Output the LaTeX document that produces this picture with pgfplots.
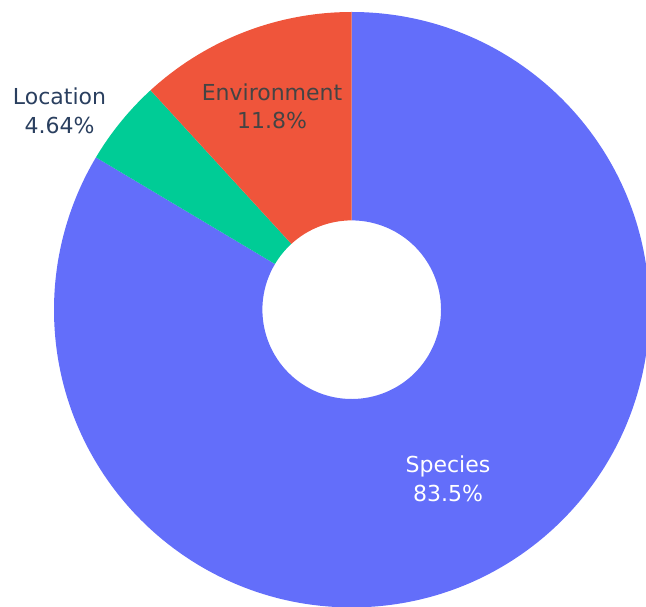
\documentclass[border=0pt]{standalone}
\usepackage{pgfplots}
\pgfplotsset{compat=1.18}
\usepackage{pgfplotstable}
\usepackage{fontspec}
\setmainfont{DejaVu Sans}

\definecolor{cSpecies}{HTML}{636EFA}
\definecolor{cLocation}{HTML}{00CC96}
\definecolor{cEnvironment}{HTML}{EF553B}
\definecolor{txtout}{HTML}{2A3F5F}
\definecolor{txtdark}{HTML}{444444}

% share of each part (percent)
\pgfplotstableread{
name share
Species 83.5
Location 4.64
Environment 11.8
}\shares

\pgfplotstablegetelem{0}{share}\of\shares \let\sA\pgfplotsretval
\pgfplotstablegetelem{1}{share}\of\shares \let\sB\pgfplotsretval
\pgfplotstablegetelem{2}{share}\of\shares \let\sC\pgfplotsretval
\pgfmathsetmacro\total{\sA+\sB+\sC}
% clockwise from 12 o'clock
\pgfmathsetmacro\aA{90}
\pgfmathsetmacro\aB{\aA-360*(\sA/\total)}
\pgfmathsetmacro\aC{\aB-360*(\sB/\total)}
\pgfmathsetmacro\aD{\aC-360*(\sC/\total)}

\def\cx{351.7}
\def\cy{296.3}
\def\Rout{297.7pt}
\def\Rin{89.3pt}

\newcommand\donutslice[3]{%
  \fill[#3] ([shift={(#1:\Rout)}]axis cs:\cx,\cy)
    arc[start angle=#1,end angle=#2,radius=\Rout]
    -- ([shift={(#2:\Rin)}]axis cs:\cx,\cy)
    arc[start angle=#2,end angle=#1,radius=\Rin] -- cycle;}

\tikzset{lbl/.style={anchor=base, inner sep=0pt, font=\fontsize{22}{26}\selectfont}}

\begin{document}
\begin{tikzpicture}
\useasboundingbox (0,0) rectangle (646pt,606pt);
\clip (0,0) rectangle (646pt,606pt);
\begin{axis}[
  at={(0,0)}, anchor=south west,
  scale only axis, width=646pt, height=606pt,
  xmin=0, xmax=646, ymin=0, ymax=606,
  hide axis, clip=false,
]
\donutslice{\aA}{\aB}{cSpecies}
\donutslice{\aB}{\aC}{cLocation}
\donutslice{\aC}{\aD}{cEnvironment}

\node[lbl, text=white] at (axis cs:448,133.7) {Species};
\node[lbl, text=white] at (axis cs:448,104.3) {83.5\%};
\node[lbl, text=txtdark] at (axis cs:272,505.3) {Environment};
\node[lbl, text=txtdark] at (axis cs:272,477.7) {11.8\%};
\node[lbl, text=txtout] at (axis cs:59.5,501) {Location};
\node[lbl, text=txtout] at (axis cs:59.5,472.3) {4.64\%};
\end{axis}
\end{tikzpicture}
\end{document}
